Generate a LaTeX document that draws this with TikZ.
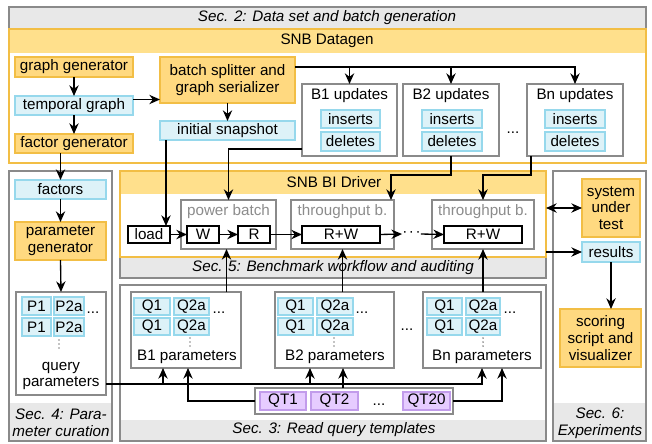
\documentclass[tikz,border=0pt]{standalone}
\usepackage{fontspec}
\setmainfont{Liberation Sans}
\usetikzlibrary{arrows.meta,calc}
\definecolor{ofill}{HTML}{FFD980}
\definecolor{odraw}{HTML}{F2BE45}
\definecolor{oband}{HTML}{FFE08C}
\definecolor{bfill}{HTML}{DDF2F8}
\definecolor{bdraw}{HTML}{96D8EC}
\definecolor{pfill}{HTML}{E6CCFF}
\definecolor{pdraw}{HTML}{C29CEB}
\definecolor{gband}{HTML}{E8E8E8}
\definecolor{gdraw}{HTML}{8A8A8A}
\definecolor{gtext}{HTML}{8C8C8C}
\newcommand\bx[7]{\node[#2, minimum width={(#5-#3)*0.75pt}, minimum height={(#6-#4)*0.75pt}, inner sep=0pt, outer sep=0pt] (#1) at ({(#3+#5)/2},{(#4+#6)/2}) {#7};}
\newcommand\vdts[3]{\coordinate (#1) at (#2,#3);
  \fill ($(#1)+(0,-4)$) circle (0.55pt);
  \fill (#1) circle (0.55pt);
  \fill ($(#1)+(0,4)$) circle (0.55pt);}
\tikzset{
  obox/.style={draw=odraw, fill=ofill, line width=1pt, align=center},
  bbox/.style={draw=bdraw, fill=bfill, line width=1pt},
  pbox/.style={draw=pdraw, fill=pfill, line width=1pt},
  gbox/.style={draw=gdraw, fill=white, line width=0.9pt},
  kbox/.style={draw=black, fill=white, line width=1pt},
  gframe/.style={draw=gdraw, line width=0.9pt},
  oframe/.style={draw=odraw, line width=1pt},
  arr/.style={-{Stealth[length=8pt,width=7pt]}, line width=1pt},
  darr/.style={{Stealth[length=8pt,width=7pt]}-{Stealth[length=8pt,width=7pt]}, line width=1pt},
  txt/.style={inner sep=0pt, align=center},
  sectxt/.style={inner sep=0pt, align=center, font=\fontsize{11.4pt}{12.6pt}\selectfont\itshape},
}
\begin{document}
\begin{tikzpicture}[x=0.75pt,y=-0.75pt, font=\fontsize{11.4pt}{12.6pt}\selectfont]
\useasboundingbox (0,0) rectangle (652,443);
\fill[white] (0,0) rectangle (652,443);
% ---------- Sec. 2 ----------
\bx{sec2}{gbox}{9}{7}{646}{163}{}
\bx{sec2b}{fill=gband}{9}{7}{646}{29}{}
\draw[gframe] (sec2.north west) rectangle (sec2.south east);
\node[sectxt] (sec2t) at (327,18) {Sec. 2: Data set and batch generation};
\bx{dg}{fill=white}{9}{29}{646}{163}{}
\bx{dgb}{fill=oband}{9}{29}{646}{53}{}
\draw[oframe] (dg.north west) rectangle (dg.south east);
\node[txt] (dgt) at (327,41) {SNB Datagen};
% ---------- Sec. 4 ----------
\bx{sec4}{gbox}{9}{171}{112}{441}{}
\bx{sec4b}{fill=gband}{9}{403}{112}{441}{}
\draw[gframe] (sec4.north west) rectangle (sec4.south east);
\node[sectxt] (sec4t) at (61,423) {Sec. 4: Para-\\meter curation};
% ---------- Sec. 3 ----------
\bx{sec3}{gbox}{120}{285}{546}{441}{}
\bx{sec3b}{fill=gband}{120}{420}{546}{441}{}
\draw[gframe] (sec3.north west) rectangle (sec3.south east);
\node[sectxt] (sec3t) at (334,430) {Sec. 3: Read query templates};
% ---------- Sec. 5 ----------
\bx{sec5}{gbox, fill=gband}{120}{171}{546}{278}{}
\bx{drv}{fill=white}{120}{171}{546}{257}{}
\bx{drvb}{fill=oband}{120}{171}{546}{194}{}
\draw[oframe] (drv.north west) rectangle (drv.south east);
\node[txt] (drvt) at (334,182) {SNB BI Driver};
\node[sectxt] (sec5t) at (333,268) {Sec. 5: Benchmark workflow and auditing};
% ---------- Sec. 6 ----------
\bx{sec6}{gbox}{553}{171}{646}{441}{}
\bx{sec6b}{fill=gband}{553}{403}{646}{441}{}
\draw[gframe] (sec6.north west) rectangle (sec6.south east);
\node[sectxt] (sec6t) at (600,423) {Sec. 6:\\Experiments};

% ---------- Datagen contents ----------
\bx{gg}{obox}{15}{57}{133}{77}{graph generator}
\bx{tg}{bbox}{15}{96}{133}{115}{temporal graph}
\bx{fg}{obox}{15}{134}{133}{153}{factor generator}
\bx{bs}{obox}{160}{57}{295}{103}{batch splitter and\\graph serializer}
\bx{is}{bbox}{160}{121}{295}{140}{initial snapshot}

\bx{u1}{gbox}{302}{84}{397}{156}{}
\node[txt] (u1t) at (349.5,96) {B1 updates};
\bx{ins1}{bbox}{321}{110}{380}{128}{inserts}
\bx{del1}{bbox}{321}{132}{380}{151}{deletes}
\bx{u2}{gbox}{403}{84}{499}{156}{}
\node[txt] (u2t) at (451,96) {B2 updates};
\bx{ins2}{bbox}{422}{110}{482}{128}{inserts}
\bx{del2}{bbox}{422}{132}{482}{151}{deletes}
\node[txt] (udots) at (513,133) {...};
\bx{un}{gbox}{527}{84}{623}{156}{}
\node[txt] (unt) at (575,96) {Bn updates};
\bx{insn}{bbox}{545}{110}{605}{128}{inserts}
\bx{deln}{bbox}{545}{132}{605}{151}{deletes}

% ---------- Sec. 4 contents ----------
\bx{fac}{bbox}{15}{180}{106}{199}{factors}
\bx{pg}{obox}{15}{222}{106}{260}{parameter\\generator}
\bx{qp}{gbox}{16}{292}{106}{395}{}
\bx{p1a}{bbox}{22}{297}{51}{315}{P1}
\bx{p2a}{bbox}{54}{297}{84}{315}{P2a}
\bx{p1b}{bbox}{22}{318}{51}{336}{P1}
\bx{p2b}{bbox}{54}{318}{84}{336}{P2a}
\node[txt] (pdots) at (93,313) {...};
\vdts{pvd}{59}{344}
\node[txt] (qpt) at (61,376) {query\\parameters};

% ---------- Sec. 3 contents ----------
\bx{bp1}{gbox}{131}{292}{241}{368}{}
\bx{b1q1}{bbox}{134}{298}{170}{315}{Q1}
\bx{b1q2}{bbox}{174}{298}{209}{315}{Q2a}
\bx{b1q3}{bbox}{134}{318}{170}{335}{Q1}
\bx{b1q4}{bbox}{174}{318}{209}{335}{Q2a}
\node[txt] (b1d) at (219,313) {...};
\vdts{b1v}{190}{342}
\node[txt] (b1t) at (187,357) {B1 parameters};

\bx{bp2}{gbox}{275}{292}{394}{368}{}
\bx{b2q1}{bbox}{278}{298}{313}{315}{Q1}
\bx{b2q2}{bbox}{317}{298}{353}{315}{Q2a}
\bx{b2q3}{bbox}{278}{318}{313}{335}{Q1}
\bx{b2q4}{bbox}{317}{318}{353}{335}{Q2a}
\node[txt] (b2d) at (362,313) {...};
\vdts{b2v}{334}{342}
\node[txt] (b2t) at (335,357) {B2 parameters};

\node[txt] (bdots) at (407,330) {...};

\bx{bpn}{gbox}{423}{292}{541}{368}{}
\bx{bnq1}{bbox}{427}{298}{462}{315}{Q1}
\bx{bnq2}{bbox}{466}{298}{500}{315}{Q2a}
\bx{bnq3}{bbox}{427}{318}{462}{335}{Q1}
\bx{bnq4}{bbox}{466}{318}{500}{335}{Q2a}
\node[txt] (bnd) at (510,313) {...};
\vdts{bnv}{483}{342}
\node[txt] (bnt) at (482,357) {Bn parameters};

\bx{qt}{gbox}{255}{388}{453}{414}{}
\bx{qt1}{pbox}{260}{392}{306}{410}{QT1}
\bx{qt2}{pbox}{311}{392}{358}{410}{QT2}
\node[txt] (qtd) at (379,405) {...};
\bx{qt20}{pbox}{403}{392}{450}{410}{QT20}

% ---------- Driver contents ----------
\bx{pb}{gbox}{181}{200}{276}{249}{}
\node[txt, text=gtext] (pbt) at (228.5,212) {power batch};
\bx{load}{kbox}{128}{226}{170}{243}{load}
\bx{w}{kbox}{187}{226}{219}{243}{W}
\bx{r}{kbox}{238}{226}{270}{243}{R}
\bx{tp1}{gbox}{291}{200}{394}{249}{}
\node[txt, text=gtext] (tp1t) at (342.5,212) {throughput b.};
\bx{rw1}{kbox}{302}{226}{380}{243}{R+W}
\node[inner sep=0pt, minimum width=17*0.75pt] (dd) at (411.5,234) {·\kern1.2pt·\kern1.2pt·};
\bx{tp2}{gbox}{432}{200}{534}{249}{}
\node[txt, text=gtext] (tp2t) at (483,212) {throughput b.};
\bx{rw2}{kbox}{444}{226}{522}{243}{R+W}

% ---------- Sec. 6 contents ----------
\bx{sut}{obox}{582}{179}{640}{237}{system\\under\\test}
\bx{res}{bbox}{582}{242}{640}{262}{results}
\bx{score}{obox}{560}{309}{641}{367}{scoring\\script and\\visualizer}

% ---------- connectors ----------
\draw[arr] (gg.south) -- (tg.north);
\draw[arr] (tg.south) -- (fg.north);
\coordinate (tga) at ($(tg.east)+(0,-6)$);
\draw[arr] (tga) -- (tga -| bs.west);
\draw[arr] (bs.south) -- (is.north);
\coordinate (bsa) at ($(bs.north east)+(0,10)$);
\draw[arr] (bsa) -| (un.north);
\draw[arr] (u1.north |- bsa) -- (u1.north);
\draw[arr] (u2.north |- bsa) -- (u2.north);

\draw[arr] (fg.south -| fac.north) -- (fac.north);
\draw[arr] (fac.south) -- (pg.north);
\draw[arr] (pg.south) -- (qp.north);

\coordinate (lda) at ($(load.north east)+(-4,0)$);
\draw[arr] (is.south -| lda) -- (lda);
\coordinate (u1a) at ($(u1.south west)+(0,-7)$);
\draw[arr] (u1a) -| (pb.north);
\coordinate (k2) at ($(u2.south)+(0,19)$);
\coordinate (tp1a) at ($(tp1.north east)+(-3,0)$);
\draw[arr] (u2.south) -- (k2) -| (tp1a);
\coordinate (una) at ($(un.south west)+(4,0)$);
\coordinate (kn) at ($(una)+(0,19)$);
\draw[arr] (una) -- (kn) -| (tp2.north);

\draw[arr] (load.east) -- (w.west);
\draw[arr] (w.east) -- (r.west);
\draw[arr] (r.east) -- (rw1.west);
\draw[arr] (rw1.east) -- (dd.west);
\draw[arr] (dd.east) -- (rw2.west);

\coordinate (pbb) at ($(pb.south)+(-2,0)$);
\draw[arr] (bp1.north -| pbb) -- (pbb);
\draw[arr] (bp2.north -| tp1.south) -- (tp1.south);
\draw[arr] (bpn.north -| tp2.south) -- (tp2.south);

\coordinate (hl) at ($(qp.south east)+(0,-11)$);
\draw[arr] (hl) -| (bpn.south);
\coordinate (h1) at ($(bp1.south west)+(32,16)$);
\draw[arr] (h1) -- (h1 |- bp1.south);
\coordinate (h2) at ($(bp2.south west)+(35,16)$);
\draw[arr] (h2) -- (h2 |- bp2.south);
\coordinate (q1) at ($(bp1.south)+(2,0)$);
\draw[arr] (qt.west) -| (q1);
\coordinate (q2) at ($(bp2.south west)+(68,0)$);
\draw[arr] (qt.north -| q2) -- (q2);
\coordinate (q3) at ($(bpn.south)+(20,0)$);
\draw[arr] (qt.east) -| (q3);

\draw[darr] (sut.west -| drv.east) -- (sut.west);
\draw[arr] (res.west -| drv.east) -- (res.west);
\draw[arr] (res.south) -- (res.south |- score.north);
\end{tikzpicture}
\end{document}
